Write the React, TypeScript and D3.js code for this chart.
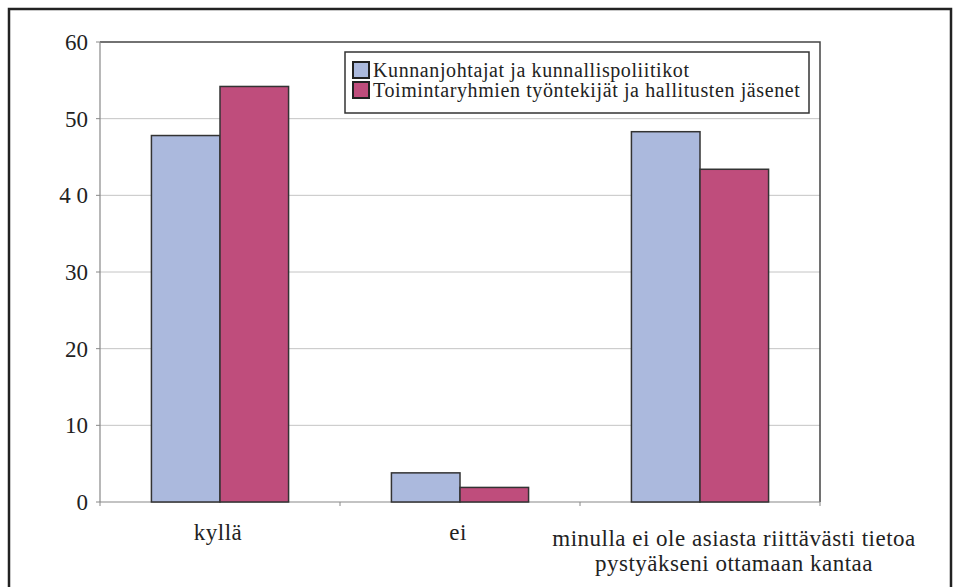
import React, { useEffect, useRef } from "react";
import * as d3 from "d3";

const categories = ["kyllä", "ei", "minulla ei ole asiasta riittävästi tietoa|pystyäkseni ottamaan kantaa"];
const seriesNames = ["Kunnanjohtajat ja kunnallispoliitikot", "Toimintaryhmien työntekijät ja hallitusten jäsenet"];
const johtajat = [47.8, 3.8, 48.3];
const toimijat = [54.2, 1.9, 43.4];
const yTicks = [0, 10, 20, 30, 40, 50, 60];
const yTickLabels = ["0", "10", "20", "30", "4 0", "50", "60"];
const colors = ["#abb9dd", "#bf4d7c"];

const W = 955, H = 587;
const font = "'Times New Roman', 'Liberation Serif', 'DejaVu Serif', serif";
// the long label sits a bit right of its band centre in the original
const labelShift = [-2, -2, 34];

export default function App() {
  const ref = useRef<SVGSVGElement>(null);

  useEffect(() => {
    const svg = d3.select(ref.current);
    svg.selectAll("*").remove();

    const left = 100, right = 820, top = 42, bottom = 502;
    const x = d3.scaleBand().domain(categories).range([left, right]).paddingInner(0).paddingOuter(0);
    const x1 = d3.scaleBand().domain(["0", "1"]).range([0, x.bandwidth()]).paddingInner(0).paddingOuter(0.75);
    const y = d3.scaleLinear().domain([0, 60]).range([bottom, top]);

    svg.append("rect").attr("width", W).attr("height", H).attr("fill", "#fff");
    // outer frame (bottom is cut off)
    svg.append("path")
      .attr("d", `M9,${H + 5} V9 H951 V${H + 5}`)
      .attr("fill", "none").attr("stroke", "#222").attr("stroke-width", 2.5);

    // gridlines
    svg.append("g").selectAll("line").data(yTicks.filter(t => t > 0 && t < 60)).enter().append("line")
      .attr("x1", left).attr("x2", right)
      .attr("y1", d => y(d)).attr("y2", d => y(d))
      .attr("stroke", "#c4c4c4").attr("stroke-width", 1);

    // plot border top/right
    svg.append("path")
      .attr("d", `M${left},${top} H${right} V${bottom}`)
      .attr("fill", "none").attr("stroke", "#444").attr("stroke-width", 1.5);

    // y axis
    svg.append("line").attr("x1", left).attr("x2", left).attr("y1", top).attr("y2", bottom)
      .attr("stroke", "#888").attr("stroke-width", 1.2);
    const yg = svg.append("g");
    yTicks.forEach((t, i) => {
      yg.append("line").attr("x1", left - 4).attr("x2", left).attr("y1", y(t)).attr("y2", y(t))
        .attr("stroke", "#888");
      yg.append("text").attr("x", 88).attr("y", y(t)).attr("dy", "0.35em")
        .attr("text-anchor", "end").style("font-family", font).attr("font-size", 23)
        .attr("fill", "#222").text(yTickLabels[i]);
    });

    // x axis
    svg.append("line").attr("x1", left).attr("x2", right).attr("y1", bottom).attr("y2", bottom)
      .attr("stroke", "#888").attr("stroke-width", 1.2);
    const bounds = categories.map(c => x(c) as number).concat([right]);
    bounds.forEach(b => {
      svg.append("line").attr("x1", b).attr("x2", b).attr("y1", bottom).attr("y2", bottom + 4)
        .attr("stroke", "#888");
    });

    // bars
    const data = categories.map((c, i) => ({ c, vals: [johtajat[i], toimijat[i]] }));
    const g = svg.append("g");
    data.forEach(d => {
      d.vals.forEach((v, s) => {
        g.append("rect")
          .attr("x", (x(d.c) as number) + (x1(String(s)) as number))
          .attr("y", y(v))
          .attr("width", x1.bandwidth())
          .attr("height", y(0) - y(v))
          .attr("fill", colors[s]).attr("stroke", "#333").attr("stroke-width", 1.5);
      });
    });

    // category labels
    categories.forEach((c, ci) => {
      const lines = c.split("|");
      const t = svg.append("text").attr("text-anchor", "middle").style("font-family", font)
        .attr("font-size", 23).attr("letter-spacing", 0.5).attr("fill", "#222");
      lines.forEach((l, i) => {
        t.append("tspan").attr("x", (x(c) as number) + x.bandwidth() / 2 + labelShift[ci])
          .attr("y", (lines.length > 1 ? 546 : 540) + i * 25).text(l);
      });
    });

    // legend
    const lg = svg.append("g");
    lg.append("rect").attr("x", 345).attr("y", 52).attr("width", 464).attr("height", 61)
      .attr("fill", "#fff").attr("stroke", "#333").attr("stroke-width", 1.5);
    seriesNames.forEach((n, i) => {
      lg.append("rect").attr("x", 353).attr("y", 62 + i * 20).attr("width", 16).attr("height", 16)
        .attr("fill", colors[i]).attr("stroke", "#222").attr("stroke-width", 2);
      lg.append("text").attr("x", 373).attr("y", 77 + i * 20).style("font-family", font)
        .attr("font-size", 20).attr("letter-spacing", 0.6).attr("fill", "#222").text(n);
    });
  }, []);

  return (
    <svg ref={ref} width={W} height={H} style={{ display: "block", position: "absolute", left: 0, top: 0 }} />
  );
}
